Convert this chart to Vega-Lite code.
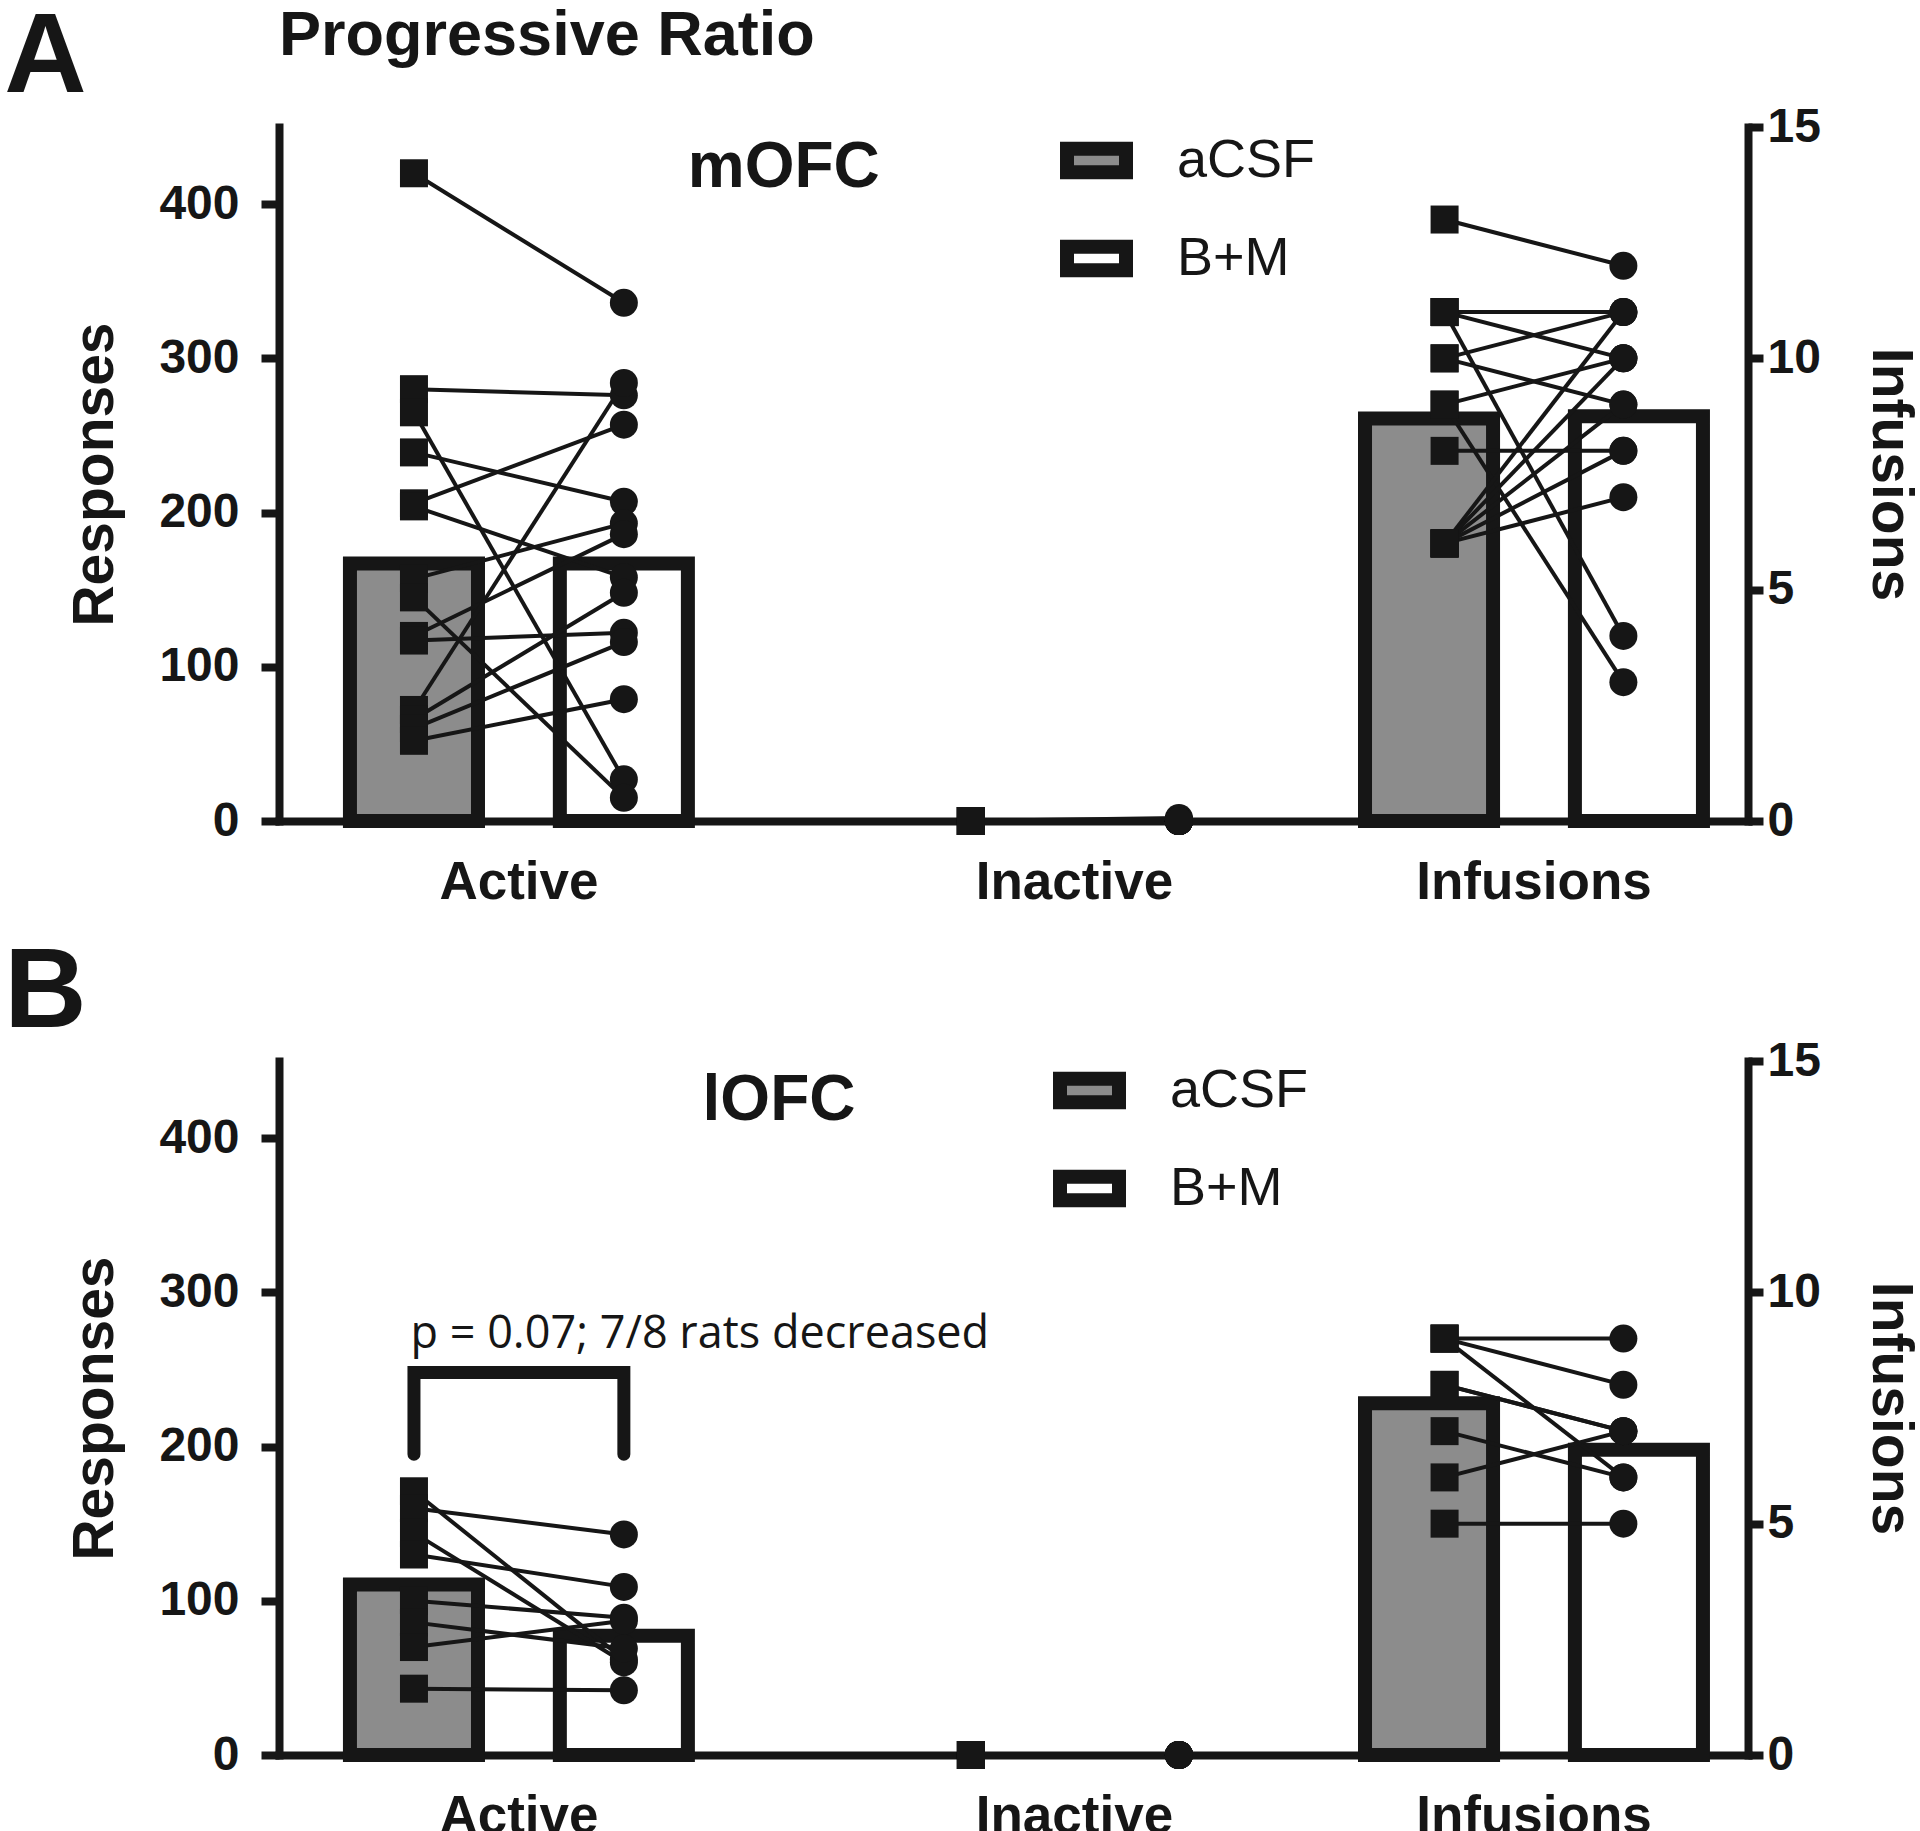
{
  "$schema": "https://vega.github.io/schema/vega-lite/v6.json",
  "background": "white",
  "padding": {"left": 4, "top": 0, "right": 12, "bottom": 0},
  "spacing": 27,
  "config": {
    "view": {"stroke": null},
    "font": "Liberation Sans",
    "axis": {"grid": false, "domainColor": "#161616", "domainWidth": 8, "tickColor": "#161616", "tickWidth": 8, "labelColor": "#161616", "labelFont": "Liberation Sans", "labelFontWeight": "bold", "titleColor": "#161616", "titleFont": "Liberation Sans", "titleFontWeight": "bold"},
    "axisX": {"ticks": false, "labelFontSize": 53, "labelPadding": 35, "labelAngle": 0, "labelLimit": 600, "domainCap": "square"},
    "axisY": {"labelFontSize": 48, "titleFontSize": 57, "domainCap": "square", "labelLimit": 300},
    "axisLeft": {"tickSize": 18, "labelPadding": 22, "titlePadding": 34},
    "axisRight": {"tickSize": 15, "labelPadding": 4, "titlePadding": 40}
  },
  "resolve": {"scale": {"fill": "independent", "xOffset": "independent"}, "legend": {"fill": "independent"}},
  "datasets": {
    "bars": [
      {"panel": "mOFC", "measure": "Active", "group": "aCSF", "value": 167},
      {"panel": "mOFC", "measure": "Active", "group": "B+M", "value": 167},
      {"panel": "mOFC", "measure": "Infusions", "group": "aCSF", "value": 8.7},
      {"panel": "mOFC", "measure": "Infusions", "group": "B+M", "value": 8.75},
      {"panel": "lOFC", "measure": "Active", "group": "aCSF", "value": 110.5},
      {"panel": "lOFC", "measure": "Active", "group": "B+M", "value": 77.3},
      {"panel": "lOFC", "measure": "Infusions", "group": "aCSF", "value": 7.6},
      {"panel": "lOFC", "measure": "Infusions", "group": "B+M", "value": 6.6}
    ],
    "bracket": [
      {"panel": "lOFC", "measure": "Active", "group": "aCSF", "step": 1, "value": 195},
      {"panel": "lOFC", "measure": "Active", "group": "aCSF", "step": 2, "value": 248},
      {"panel": "lOFC", "measure": "Active", "group": "B+M", "step": 3, "value": 248},
      {"panel": "lOFC", "measure": "Active", "group": "B+M", "step": 4, "value": 195}
    ],
    "notes": [
      {"panel": "mOFC", "label": "A", "measure": "Active", "value": 473},
      {"panel": "mOFC", "label": "Progressive Ratio", "measure": "Active", "value": 497},
      {"panel": "mOFC", "label": "mOFC", "measure": "Active", "value": 411},
      {"panel": "lOFC", "label": "B", "measure": "Active", "value": 472},
      {"panel": "lOFC", "label": "lOFC", "measure": "Active", "value": 412},
      {"panel": "lOFC", "label": "p = 0.07; 7/8 rats decreased", "measure": "Active", "value": 264}
    ],
    "points": [
      {"panel": "mOFC", "measure": "Active", "group": "aCSF", "rat": 1, "value": 420},
      {"panel": "mOFC", "measure": "Active", "group": "aCSF", "rat": 2, "value": 280},
      {"panel": "mOFC", "measure": "Active", "group": "aCSF", "rat": 3, "value": 265},
      {"panel": "mOFC", "measure": "Active", "group": "aCSF", "rat": 4, "value": 239},
      {"panel": "mOFC", "measure": "Active", "group": "aCSF", "rat": 5, "value": 206},
      {"panel": "mOFC", "measure": "Active", "group": "aCSF", "rat": 6, "value": 204},
      {"panel": "mOFC", "measure": "Active", "group": "aCSF", "rat": 7, "value": 157},
      {"panel": "mOFC", "measure": "Active", "group": "aCSF", "rat": 8, "value": 145},
      {"panel": "mOFC", "measure": "Active", "group": "aCSF", "rat": 9, "value": 120},
      {"panel": "mOFC", "measure": "Active", "group": "aCSF", "rat": 10, "value": 117},
      {"panel": "mOFC", "measure": "Active", "group": "aCSF", "rat": 11, "value": 72},
      {"panel": "mOFC", "measure": "Active", "group": "aCSF", "rat": 12, "value": 66},
      {"panel": "mOFC", "measure": "Active", "group": "aCSF", "rat": 13, "value": 60},
      {"panel": "mOFC", "measure": "Active", "group": "aCSF", "rat": 14, "value": 52},
      {"panel": "mOFC", "measure": "Active", "group": "B+M", "rat": 1, "value": 336},
      {"panel": "mOFC", "measure": "Active", "group": "B+M", "rat": 2, "value": 276},
      {"panel": "mOFC", "measure": "Active", "group": "B+M", "rat": 3, "value": 27},
      {"panel": "mOFC", "measure": "Active", "group": "B+M", "rat": 4, "value": 207},
      {"panel": "mOFC", "measure": "Active", "group": "B+M", "rat": 5, "value": 257},
      {"panel": "mOFC", "measure": "Active", "group": "B+M", "rat": 6, "value": 158},
      {"panel": "mOFC", "measure": "Active", "group": "B+M", "rat": 7, "value": 193},
      {"panel": "mOFC", "measure": "Active", "group": "B+M", "rat": 8, "value": 15},
      {"panel": "mOFC", "measure": "Active", "group": "B+M", "rat": 9, "value": 186},
      {"panel": "mOFC", "measure": "Active", "group": "B+M", "rat": 10, "value": 122},
      {"panel": "mOFC", "measure": "Active", "group": "B+M", "rat": 11, "value": 284},
      {"panel": "mOFC", "measure": "Active", "group": "B+M", "rat": 12, "value": 148},
      {"panel": "mOFC", "measure": "Active", "group": "B+M", "rat": 13, "value": 116},
      {"panel": "mOFC", "measure": "Active", "group": "B+M", "rat": 14, "value": 79},
      {"panel": "mOFC", "measure": "Inactive", "group": "aCSF", "rat": 1, "value": 0},
      {"panel": "mOFC", "measure": "Inactive", "group": "aCSF", "rat": 2, "value": 0},
      {"panel": "mOFC", "measure": "Inactive", "group": "aCSF", "rat": 3, "value": 0},
      {"panel": "mOFC", "measure": "Inactive", "group": "aCSF", "rat": 4, "value": 0},
      {"panel": "mOFC", "measure": "Inactive", "group": "aCSF", "rat": 5, "value": 0},
      {"panel": "mOFC", "measure": "Inactive", "group": "aCSF", "rat": 6, "value": 0},
      {"panel": "mOFC", "measure": "Inactive", "group": "aCSF", "rat": 7, "value": 0},
      {"panel": "mOFC", "measure": "Inactive", "group": "aCSF", "rat": 8, "value": 0},
      {"panel": "mOFC", "measure": "Inactive", "group": "aCSF", "rat": 9, "value": 0},
      {"panel": "mOFC", "measure": "Inactive", "group": "aCSF", "rat": 10, "value": 0},
      {"panel": "mOFC", "measure": "Inactive", "group": "aCSF", "rat": 11, "value": 0},
      {"panel": "mOFC", "measure": "Inactive", "group": "aCSF", "rat": 12, "value": 0},
      {"panel": "mOFC", "measure": "Inactive", "group": "aCSF", "rat": 13, "value": 0},
      {"panel": "mOFC", "measure": "Inactive", "group": "aCSF", "rat": 14, "value": 0},
      {"panel": "mOFC", "measure": "Inactive", "group": "B+M", "rat": 1, "value": 0},
      {"panel": "mOFC", "measure": "Inactive", "group": "B+M", "rat": 2, "value": 0},
      {"panel": "mOFC", "measure": "Inactive", "group": "B+M", "rat": 3, "value": 1},
      {"panel": "mOFC", "measure": "Inactive", "group": "B+M", "rat": 4, "value": 0},
      {"panel": "mOFC", "measure": "Inactive", "group": "B+M", "rat": 5, "value": 0},
      {"panel": "mOFC", "measure": "Inactive", "group": "B+M", "rat": 6, "value": 0},
      {"panel": "mOFC", "measure": "Inactive", "group": "B+M", "rat": 7, "value": 0},
      {"panel": "mOFC", "measure": "Inactive", "group": "B+M", "rat": 8, "value": 0},
      {"panel": "mOFC", "measure": "Inactive", "group": "B+M", "rat": 9, "value": 2},
      {"panel": "mOFC", "measure": "Inactive", "group": "B+M", "rat": 10, "value": 0},
      {"panel": "mOFC", "measure": "Inactive", "group": "B+M", "rat": 11, "value": 0},
      {"panel": "mOFC", "measure": "Inactive", "group": "B+M", "rat": 12, "value": 0},
      {"panel": "mOFC", "measure": "Inactive", "group": "B+M", "rat": 13, "value": 0},
      {"panel": "mOFC", "measure": "Inactive", "group": "B+M", "rat": 14, "value": 0},
      {"panel": "mOFC", "measure": "Infusions", "group": "aCSF", "rat": 1, "value": 13},
      {"panel": "mOFC", "measure": "Infusions", "group": "aCSF", "rat": 2, "value": 11},
      {"panel": "mOFC", "measure": "Infusions", "group": "aCSF", "rat": 3, "value": 11},
      {"panel": "mOFC", "measure": "Infusions", "group": "aCSF", "rat": 4, "value": 11},
      {"panel": "mOFC", "measure": "Infusions", "group": "aCSF", "rat": 5, "value": 10},
      {"panel": "mOFC", "measure": "Infusions", "group": "aCSF", "rat": 6, "value": 10},
      {"panel": "mOFC", "measure": "Infusions", "group": "aCSF", "rat": 7, "value": 9},
      {"panel": "mOFC", "measure": "Infusions", "group": "aCSF", "rat": 8, "value": 9},
      {"panel": "mOFC", "measure": "Infusions", "group": "aCSF", "rat": 9, "value": 8},
      {"panel": "mOFC", "measure": "Infusions", "group": "aCSF", "rat": 10, "value": 6},
      {"panel": "mOFC", "measure": "Infusions", "group": "aCSF", "rat": 11, "value": 6},
      {"panel": "mOFC", "measure": "Infusions", "group": "aCSF", "rat": 12, "value": 6},
      {"panel": "mOFC", "measure": "Infusions", "group": "aCSF", "rat": 13, "value": 6},
      {"panel": "mOFC", "measure": "Infusions", "group": "aCSF", "rat": 14, "value": 6},
      {"panel": "mOFC", "measure": "Infusions", "group": "B+M", "rat": 1, "value": 12},
      {"panel": "mOFC", "measure": "Infusions", "group": "B+M", "rat": 2, "value": 11},
      {"panel": "mOFC", "measure": "Infusions", "group": "B+M", "rat": 3, "value": 10},
      {"panel": "mOFC", "measure": "Infusions", "group": "B+M", "rat": 4, "value": 4},
      {"panel": "mOFC", "measure": "Infusions", "group": "B+M", "rat": 5, "value": 11},
      {"panel": "mOFC", "measure": "Infusions", "group": "B+M", "rat": 6, "value": 9},
      {"panel": "mOFC", "measure": "Infusions", "group": "B+M", "rat": 7, "value": 10},
      {"panel": "mOFC", "measure": "Infusions", "group": "B+M", "rat": 8, "value": 3},
      {"panel": "mOFC", "measure": "Infusions", "group": "B+M", "rat": 9, "value": 8},
      {"panel": "mOFC", "measure": "Infusions", "group": "B+M", "rat": 10, "value": 11},
      {"panel": "mOFC", "measure": "Infusions", "group": "B+M", "rat": 11, "value": 10},
      {"panel": "mOFC", "measure": "Infusions", "group": "B+M", "rat": 12, "value": 9},
      {"panel": "mOFC", "measure": "Infusions", "group": "B+M", "rat": 13, "value": 8},
      {"panel": "mOFC", "measure": "Infusions", "group": "B+M", "rat": 14, "value": 7},
      {"panel": "lOFC", "measure": "Active", "group": "aCSF", "rat": 1, "value": 171},
      {"panel": "lOFC", "measure": "Active", "group": "aCSF", "rat": 2, "value": 160},
      {"panel": "lOFC", "measure": "Active", "group": "aCSF", "rat": 3, "value": 144},
      {"panel": "lOFC", "measure": "Active", "group": "aCSF", "rat": 4, "value": 130},
      {"panel": "lOFC", "measure": "Active", "group": "aCSF", "rat": 5, "value": 100},
      {"panel": "lOFC", "measure": "Active", "group": "aCSF", "rat": 6, "value": 86},
      {"panel": "lOFC", "measure": "Active", "group": "aCSF", "rat": 7, "value": 70},
      {"panel": "lOFC", "measure": "Active", "group": "aCSF", "rat": 8, "value": 43},
      {"panel": "lOFC", "measure": "Active", "group": "B+M", "rat": 1, "value": 62},
      {"panel": "lOFC", "measure": "Active", "group": "B+M", "rat": 2, "value": 143},
      {"panel": "lOFC", "measure": "Active", "group": "B+M", "rat": 3, "value": 60},
      {"panel": "lOFC", "measure": "Active", "group": "B+M", "rat": 4, "value": 109},
      {"panel": "lOFC", "measure": "Active", "group": "B+M", "rat": 5, "value": 89},
      {"panel": "lOFC", "measure": "Active", "group": "B+M", "rat": 6, "value": 69},
      {"panel": "lOFC", "measure": "Active", "group": "B+M", "rat": 7, "value": 87},
      {"panel": "lOFC", "measure": "Active", "group": "B+M", "rat": 8, "value": 42},
      {"panel": "lOFC", "measure": "Inactive", "group": "aCSF", "rat": 1, "value": 0},
      {"panel": "lOFC", "measure": "Inactive", "group": "aCSF", "rat": 2, "value": 0},
      {"panel": "lOFC", "measure": "Inactive", "group": "aCSF", "rat": 3, "value": 0},
      {"panel": "lOFC", "measure": "Inactive", "group": "aCSF", "rat": 4, "value": 0},
      {"panel": "lOFC", "measure": "Inactive", "group": "aCSF", "rat": 5, "value": 0},
      {"panel": "lOFC", "measure": "Inactive", "group": "aCSF", "rat": 6, "value": 0},
      {"panel": "lOFC", "measure": "Inactive", "group": "aCSF", "rat": 7, "value": 0},
      {"panel": "lOFC", "measure": "Inactive", "group": "aCSF", "rat": 8, "value": 0},
      {"panel": "lOFC", "measure": "Inactive", "group": "B+M", "rat": 1, "value": 0},
      {"panel": "lOFC", "measure": "Inactive", "group": "B+M", "rat": 2, "value": 0},
      {"panel": "lOFC", "measure": "Inactive", "group": "B+M", "rat": 3, "value": 0},
      {"panel": "lOFC", "measure": "Inactive", "group": "B+M", "rat": 4, "value": 0},
      {"panel": "lOFC", "measure": "Inactive", "group": "B+M", "rat": 5, "value": 0},
      {"panel": "lOFC", "measure": "Inactive", "group": "B+M", "rat": 6, "value": 0},
      {"panel": "lOFC", "measure": "Inactive", "group": "B+M", "rat": 7, "value": 0},
      {"panel": "lOFC", "measure": "Inactive", "group": "B+M", "rat": 8, "value": 0},
      {"panel": "lOFC", "measure": "Infusions", "group": "aCSF", "rat": 1, "value": 9},
      {"panel": "lOFC", "measure": "Infusions", "group": "aCSF", "rat": 2, "value": 9},
      {"panel": "lOFC", "measure": "Infusions", "group": "aCSF", "rat": 3, "value": 9},
      {"panel": "lOFC", "measure": "Infusions", "group": "aCSF", "rat": 4, "value": 8},
      {"panel": "lOFC", "measure": "Infusions", "group": "aCSF", "rat": 5, "value": 8},
      {"panel": "lOFC", "measure": "Infusions", "group": "aCSF", "rat": 6, "value": 7},
      {"panel": "lOFC", "measure": "Infusions", "group": "aCSF", "rat": 7, "value": 6},
      {"panel": "lOFC", "measure": "Infusions", "group": "aCSF", "rat": 8, "value": 5},
      {"panel": "lOFC", "measure": "Infusions", "group": "B+M", "rat": 1, "value": 9},
      {"panel": "lOFC", "measure": "Infusions", "group": "B+M", "rat": 2, "value": 8},
      {"panel": "lOFC", "measure": "Infusions", "group": "B+M", "rat": 3, "value": 6},
      {"panel": "lOFC", "measure": "Infusions", "group": "B+M", "rat": 4, "value": 7},
      {"panel": "lOFC", "measure": "Infusions", "group": "B+M", "rat": 5, "value": 7},
      {"panel": "lOFC", "measure": "Infusions", "group": "B+M", "rat": 6, "value": 6},
      {"panel": "lOFC", "measure": "Infusions", "group": "B+M", "rat": 7, "value": 7},
      {"panel": "lOFC", "measure": "Infusions", "group": "B+M", "rat": 8, "value": 5}
    ]
  },
  "vconcat": [
    {
      "width": 1469,
      "height": 694,
      "resolve": {"scale": {"y": "independent", "xOffset": "independent"}},
      "layer": [
        {
          "resolve": {"scale": {"xOffset": "independent"}},
          "layer": [
            {
              "layer": [
                {
                  "data": {"name": "bars"},
                  "transform": [{"filter": "datum.panel === 'mOFC' && datum.measure === 'Active'"}],
                  "mark": {"type": "bar", "stroke": "#161616", "strokeWidth": 14, "strokeJoin": "miter"},
                  "encoding": {
                    "x": {"field": "measure", "type": "nominal", "sort": null, "scale": {"domain": ["Active", "Inactive", "Infusions"], "paddingInner": 0.22, "paddingOuter": 0.0572, "align": 0.723}, "axis": {"title": null, "labelOffset": {"condition": {"test": "datum.value === 'Inactive'", "value": 48}, "value": 0}}},
                    "xOffset": {"field": "group", "type": "nominal", "scale": {"type": "band", "domain": ["aCSF", "B+M"], "paddingInner": 0.39, "paddingOuter": 0.138}},
                    "y": {"field": "value", "type": "quantitative", "scale": {"domain": [0, 450], "nice": false}, "axis": {"orient": "left", "title": "Responses", "values": [0, 100, 200, 300, 400]}},
                    "fill": {"field": "group", "type": "nominal", "scale": {"domain": ["aCSF", "B+M"], "range": ["#8c8c8c", "#ffffff"]}, "legend": {"title": null, "orient": "none", "legendX": 781, "legendY": -3, "padding": 0, "symbolType": "M-1,-0.4H1V0.4H-1Z", "symbolSize": 3481, "symbolStrokeColor": "#161616", "symbolStrokeWidth": 14, "labelFontSize": 54, "labelFont": "Liberation Sans", "labelFontWeight": "normal", "labelColor": "#161616", "rowPadding": 17, "labelOffset": 44}}
                  }
                },
                {
                  "data": {"name": "points"},
                  "transform": [{"filter": "datum.panel === 'mOFC' && datum.measure === 'Active'"}],
                  "mark": {"type": "line", "color": "#161616", "strokeWidth": 4},
                  "encoding": {
                    "x": {"field": "measure", "type": "nominal", "sort": null, "scale": {"domain": ["Active", "Inactive", "Infusions"], "paddingInner": 0.22, "paddingOuter": 0.0572, "align": 0.723}, "axis": {"title": null, "labelOffset": {"condition": {"test": "datum.value === 'Inactive'", "value": 48}, "value": 0}}},
                    "xOffset": {"field": "group", "type": "nominal", "scale": {"type": "band", "domain": ["aCSF", "B+M"], "paddingInner": 0.39, "paddingOuter": 0.138}},
                    "y": {"field": "value", "type": "quantitative", "scale": {"domain": [0, 450], "nice": false}, "axis": {"orient": "left", "title": "Responses", "values": [0, 100, 200, 300, 400]}},
                    "detail": {"field": "rat", "type": "nominal"}
                  }
                },
                {
                  "data": {"name": "points"},
                  "transform": [{"filter": "datum.panel === 'mOFC' && datum.measure === 'Active'"}],
                  "mark": {"type": "point", "filled": true, "opacity": 1, "color": "#161616", "size": 784},
                  "encoding": {
                    "x": {"field": "measure", "type": "nominal", "sort": null, "scale": {"domain": ["Active", "Inactive", "Infusions"], "paddingInner": 0.22, "paddingOuter": 0.0572, "align": 0.723}, "axis": {"title": null, "labelOffset": {"condition": {"test": "datum.value === 'Inactive'", "value": 48}, "value": 0}}},
                    "xOffset": {"field": "group", "type": "nominal", "scale": {"type": "band", "domain": ["aCSF", "B+M"], "paddingInner": 0.39, "paddingOuter": 0.138}},
                    "y": {"field": "value", "type": "quantitative", "scale": {"domain": [0, 450], "nice": false}, "axis": {"orient": "left", "title": "Responses", "values": [0, 100, 200, 300, 400]}},
                    "shape": {"field": "group", "type": "nominal", "scale": {"domain": ["aCSF", "B+M"], "range": ["square", "circle"]}, "legend": null}
                  }
                },
                {
                  "data": {"name": "notes"},
                  "transform": [{"filter": "datum.label === 'A'"}],
                  "mark": {"type": "text", "align": "left", "baseline": "alphabetic", "fontSize": 114, "fontWeight": "bold", "font": "Liberation Sans", "color": "#161616"},
                  "encoding": {
                    "x": {"field": "measure", "type": "nominal", "sort": null, "bandPosition": -0.8, "scale": {"domain": ["Active", "Inactive", "Infusions"], "paddingInner": 0.22, "paddingOuter": 0.0572, "align": 0.723}, "axis": {"title": null, "labelOffset": {"condition": {"test": "datum.value === 'Inactive'", "value": 48}, "value": 0}}},
                    "y": {"field": "value", "type": "quantitative", "scale": {"domain": [0, 450], "nice": false}, "axis": {"orient": "left", "title": "Responses", "values": [0, 100, 200, 300, 400]}},
                    "text": {"field": "label"}
                  }
                },
                {
                  "data": {"name": "notes"},
                  "transform": [{"filter": "datum.label === 'Progressive Ratio'"}],
                  "mark": {"type": "text", "align": "left", "baseline": "alphabetic", "fontSize": 63, "fontWeight": "bold", "font": "Liberation Sans", "color": "#161616"},
                  "encoding": {
                    "x": {"field": "measure", "type": "nominal", "sort": null, "bandPosition": -0.106, "scale": {"domain": ["Active", "Inactive", "Infusions"], "paddingInner": 0.22, "paddingOuter": 0.0572, "align": 0.723}, "axis": {"title": null, "labelOffset": {"condition": {"test": "datum.value === 'Inactive'", "value": 48}, "value": 0}}},
                    "y": {"field": "value", "type": "quantitative", "scale": {"domain": [0, 450], "nice": false}, "axis": {"orient": "left", "title": "Responses", "values": [0, 100, 200, 300, 400]}},
                    "text": {"field": "label"}
                  }
                },
                {
                  "data": {"name": "notes"},
                  "transform": [{"filter": "datum.label === 'mOFC'"}],
                  "mark": {"type": "text", "align": "center", "baseline": "alphabetic", "fontSize": 64, "fontWeight": "bold", "font": "Liberation Sans", "color": "#161616"},
                  "encoding": {
                    "x": {"field": "measure", "type": "nominal", "sort": null, "bandPosition": 1.169, "scale": {"domain": ["Active", "Inactive", "Infusions"], "paddingInner": 0.22, "paddingOuter": 0.0572, "align": 0.723}, "axis": {"title": null, "labelOffset": {"condition": {"test": "datum.value === 'Inactive'", "value": 48}, "value": 0}}},
                    "y": {"field": "value", "type": "quantitative", "scale": {"domain": [0, 450], "nice": false}, "axis": {"orient": "left", "title": "Responses", "values": [0, 100, 200, 300, 400]}},
                    "text": {"field": "label"}
                  }
                }
              ]
            },
            {
              "layer": [
                {
                  "data": {"name": "points"},
                  "transform": [{"filter": "datum.panel === 'mOFC' && datum.measure === 'Inactive'"}],
                  "mark": {"type": "line", "color": "#161616", "strokeWidth": 4},
                  "encoding": {
                    "x": {"field": "measure", "type": "nominal", "sort": null, "scale": {"domain": ["Active", "Inactive", "Infusions"], "paddingInner": 0.22, "paddingOuter": 0.0572, "align": 0.723}, "axis": {"title": null, "labelOffset": {"condition": {"test": "datum.value === 'Inactive'", "value": 48}, "value": 0}}},
                    "xOffset": {"field": "group", "type": "nominal", "scale": {"type": "band", "domain": ["aCSF", "B+M"], "paddingInner": 0.6, "paddingOuter": 0.2517, "align": 0.963}},
                    "y": {"field": "value", "type": "quantitative", "scale": {"domain": [0, 450], "nice": false}, "axis": {"orient": "left", "title": "Responses", "values": [0, 100, 200, 300, 400]}},
                    "detail": {"field": "rat", "type": "nominal"}
                  }
                },
                {
                  "data": {"name": "points"},
                  "transform": [{"filter": "datum.panel === 'mOFC' && datum.measure === 'Inactive'"}],
                  "mark": {"type": "point", "filled": true, "opacity": 1, "color": "#161616", "size": 784},
                  "encoding": {
                    "x": {"field": "measure", "type": "nominal", "sort": null, "scale": {"domain": ["Active", "Inactive", "Infusions"], "paddingInner": 0.22, "paddingOuter": 0.0572, "align": 0.723}, "axis": {"title": null, "labelOffset": {"condition": {"test": "datum.value === 'Inactive'", "value": 48}, "value": 0}}},
                    "xOffset": {"field": "group", "type": "nominal", "scale": {"type": "band", "domain": ["aCSF", "B+M"], "paddingInner": 0.6, "paddingOuter": 0.2517, "align": 0.963}},
                    "y": {"field": "value", "type": "quantitative", "scale": {"domain": [0, 450], "nice": false}, "axis": {"orient": "left", "title": "Responses", "values": [0, 100, 200, 300, 400]}},
                    "shape": {"field": "group", "type": "nominal", "scale": {"domain": ["aCSF", "B+M"], "range": ["square", "circle"]}, "legend": null}
                  }
                }
              ]
            }
          ]
        },
        {
          "resolve": {"scale": {"xOffset": "independent"}},
          "layer": [
            {
              "data": {"name": "bars"},
              "transform": [{"filter": "datum.panel === 'mOFC' && datum.measure === 'Infusions'"}],
              "mark": {"type": "bar", "stroke": "#161616", "strokeWidth": 14, "strokeJoin": "miter"},
              "encoding": {
                "x": {"field": "measure", "type": "nominal", "sort": null, "scale": {"domain": ["Active", "Inactive", "Infusions"], "paddingInner": 0.22, "paddingOuter": 0.0572, "align": 0.723}, "axis": {"title": null, "labelOffset": {"condition": {"test": "datum.value === 'Inactive'", "value": 48}, "value": 0}}},
                "xOffset": {"field": "group", "type": "nominal", "scale": {"type": "band", "domain": ["aCSF", "B+M"], "paddingInner": 0.39, "paddingOuter": 0.138}},
                "y": {"field": "value", "type": "quantitative", "scale": {"domain": [0, 15], "nice": false}, "axis": {"orient": "right", "title": "Infusions", "values": [0, 5, 10, 15]}},
                "fill": {"field": "group", "type": "nominal", "scale": {"domain": ["aCSF", "B+M"], "range": ["#8c8c8c", "#ffffff"]}, "legend": {"title": null, "orient": "none", "legendX": 781, "legendY": -3, "padding": 0, "symbolType": "M-1,-0.4H1V0.4H-1Z", "symbolSize": 3481, "symbolStrokeColor": "#161616", "symbolStrokeWidth": 14, "labelFontSize": 54, "labelFont": "Liberation Sans", "labelFontWeight": "normal", "labelColor": "#161616", "rowPadding": 17, "labelOffset": 44}}
              }
            },
            {
              "layer": [
                {
                  "data": {"name": "points"},
                  "transform": [{"filter": "datum.panel === 'mOFC' && datum.measure === 'Infusions'"}],
                  "mark": {"type": "line", "color": "#161616", "strokeWidth": 4},
                  "encoding": {
                    "x": {"field": "measure", "type": "nominal", "sort": null, "scale": {"domain": ["Active", "Inactive", "Infusions"], "paddingInner": 0.22, "paddingOuter": 0.0572, "align": 0.723}, "axis": {"title": null, "labelOffset": {"condition": {"test": "datum.value === 'Inactive'", "value": 48}, "value": 0}}},
                    "xOffset": {"field": "group", "type": "nominal", "scale": {"type": "band", "domain": ["aCSF", "B+M"], "paddingInner": 0.6, "paddingOuter": 0.407}},
                    "y": {"field": "value", "type": "quantitative", "scale": {"domain": [0, 15], "nice": false}, "axis": {"orient": "right", "title": "Infusions", "values": [0, 5, 10, 15]}},
                    "detail": {"field": "rat", "type": "nominal"}
                  }
                },
                {
                  "data": {"name": "points"},
                  "transform": [{"filter": "datum.panel === 'mOFC' && datum.measure === 'Infusions'"}],
                  "mark": {"type": "point", "filled": true, "opacity": 1, "color": "#161616", "size": 784},
                  "encoding": {
                    "x": {"field": "measure", "type": "nominal", "sort": null, "scale": {"domain": ["Active", "Inactive", "Infusions"], "paddingInner": 0.22, "paddingOuter": 0.0572, "align": 0.723}, "axis": {"title": null, "labelOffset": {"condition": {"test": "datum.value === 'Inactive'", "value": 48}, "value": 0}}},
                    "xOffset": {"field": "group", "type": "nominal", "scale": {"type": "band", "domain": ["aCSF", "B+M"], "paddingInner": 0.6, "paddingOuter": 0.407}},
                    "y": {"field": "value", "type": "quantitative", "scale": {"domain": [0, 15], "nice": false}, "axis": {"orient": "right", "title": "Infusions", "values": [0, 5, 10, 15]}},
                    "shape": {"field": "group", "type": "nominal", "scale": {"domain": ["aCSF", "B+M"], "range": ["square", "circle"]}, "legend": null}
                  }
                }
              ]
            }
          ]
        }
      ]
    },
    {
      "width": 1469,
      "height": 694,
      "resolve": {"scale": {"y": "independent", "xOffset": "independent"}},
      "layer": [
        {
          "resolve": {"scale": {"xOffset": "independent"}},
          "layer": [
            {
              "layer": [
                {
                  "data": {"name": "bars"},
                  "transform": [{"filter": "datum.panel === 'lOFC' && datum.measure === 'Active'"}],
                  "mark": {"type": "bar", "stroke": "#161616", "strokeWidth": 14, "strokeJoin": "miter"},
                  "encoding": {
                    "x": {"field": "measure", "type": "nominal", "sort": null, "scale": {"domain": ["Active", "Inactive", "Infusions"], "paddingInner": 0.22, "paddingOuter": 0.0572, "align": 0.723}, "axis": {"title": null, "labelOffset": {"condition": {"test": "datum.value === 'Inactive'", "value": 48}, "value": 0}}},
                    "xOffset": {"field": "group", "type": "nominal", "scale": {"type": "band", "domain": ["aCSF", "B+M"], "paddingInner": 0.39, "paddingOuter": 0.138}},
                    "y": {"field": "value", "type": "quantitative", "scale": {"domain": [0, 450], "nice": false}, "axis": {"orient": "left", "title": "Responses", "values": [0, 100, 200, 300, 400]}},
                    "fill": {"field": "group", "type": "nominal", "scale": {"domain": ["aCSF", "B+M"], "range": ["#8c8c8c", "#ffffff"]}, "legend": {"title": null, "orient": "none", "legendX": 774, "legendY": -7, "padding": 0, "symbolType": "M-1,-0.4H1V0.4H-1Z", "symbolSize": 3481, "symbolStrokeColor": "#161616", "symbolStrokeWidth": 14, "labelFontSize": 54, "labelFont": "Liberation Sans", "labelFontWeight": "normal", "labelColor": "#161616", "rowPadding": 17, "labelOffset": 44}}
                  }
                },
                {
                  "data": {"name": "points"},
                  "transform": [{"filter": "datum.panel === 'lOFC' && datum.measure === 'Active'"}],
                  "mark": {"type": "line", "color": "#161616", "strokeWidth": 4},
                  "encoding": {
                    "x": {"field": "measure", "type": "nominal", "sort": null, "scale": {"domain": ["Active", "Inactive", "Infusions"], "paddingInner": 0.22, "paddingOuter": 0.0572, "align": 0.723}, "axis": {"title": null, "labelOffset": {"condition": {"test": "datum.value === 'Inactive'", "value": 48}, "value": 0}}},
                    "xOffset": {"field": "group", "type": "nominal", "scale": {"type": "band", "domain": ["aCSF", "B+M"], "paddingInner": 0.39, "paddingOuter": 0.138}},
                    "y": {"field": "value", "type": "quantitative", "scale": {"domain": [0, 450], "nice": false}, "axis": {"orient": "left", "title": "Responses", "values": [0, 100, 200, 300, 400]}},
                    "detail": {"field": "rat", "type": "nominal"}
                  }
                },
                {
                  "data": {"name": "points"},
                  "transform": [{"filter": "datum.panel === 'lOFC' && datum.measure === 'Active'"}],
                  "mark": {"type": "point", "filled": true, "opacity": 1, "color": "#161616", "size": 784},
                  "encoding": {
                    "x": {"field": "measure", "type": "nominal", "sort": null, "scale": {"domain": ["Active", "Inactive", "Infusions"], "paddingInner": 0.22, "paddingOuter": 0.0572, "align": 0.723}, "axis": {"title": null, "labelOffset": {"condition": {"test": "datum.value === 'Inactive'", "value": 48}, "value": 0}}},
                    "xOffset": {"field": "group", "type": "nominal", "scale": {"type": "band", "domain": ["aCSF", "B+M"], "paddingInner": 0.39, "paddingOuter": 0.138}},
                    "y": {"field": "value", "type": "quantitative", "scale": {"domain": [0, 450], "nice": false}, "axis": {"orient": "left", "title": "Responses", "values": [0, 100, 200, 300, 400]}},
                    "shape": {"field": "group", "type": "nominal", "scale": {"domain": ["aCSF", "B+M"], "range": ["square", "circle"]}, "legend": null}
                  }
                },
                {
                  "data": {"name": "bracket"},
                  "mark": {"type": "line", "color": "#161616", "strokeWidth": 13, "strokeCap": "round", "strokeJoin": "miter"},
                  "encoding": {
                    "x": {"field": "measure", "type": "nominal", "sort": null, "scale": {"domain": ["Active", "Inactive", "Infusions"], "paddingInner": 0.22, "paddingOuter": 0.0572, "align": 0.723}, "axis": {"title": null, "labelOffset": {"condition": {"test": "datum.value === 'Inactive'", "value": 48}, "value": 0}}},
                    "xOffset": {"field": "group", "type": "nominal", "scale": {"type": "band", "domain": ["aCSF", "B+M"], "paddingInner": 0.39, "paddingOuter": 0.138}},
                    "y": {"field": "value", "type": "quantitative", "scale": {"domain": [0, 450], "nice": false}, "axis": {"orient": "left", "title": "Responses", "values": [0, 100, 200, 300, 400]}},
                    "order": {"field": "step", "type": "quantitative"}
                  }
                },
                {
                  "data": {"name": "notes"},
                  "transform": [{"filter": "datum.label === 'B'"}],
                  "mark": {"type": "text", "align": "left", "baseline": "alphabetic", "fontSize": 114, "fontWeight": "bold", "font": "Liberation Sans", "color": "#161616"},
                  "encoding": {
                    "x": {"field": "measure", "type": "nominal", "sort": null, "bandPosition": -0.8, "scale": {"domain": ["Active", "Inactive", "Infusions"], "paddingInner": 0.22, "paddingOuter": 0.0572, "align": 0.723}, "axis": {"title": null, "labelOffset": {"condition": {"test": "datum.value === 'Inactive'", "value": 48}, "value": 0}}},
                    "y": {"field": "value", "type": "quantitative", "scale": {"domain": [0, 450], "nice": false}, "axis": {"orient": "left", "title": "Responses", "values": [0, 100, 200, 300, 400]}},
                    "text": {"field": "label"}
                  }
                },
                {
                  "data": {"name": "notes"},
                  "transform": [{"filter": "datum.label === 'lOFC'"}],
                  "mark": {"type": "text", "align": "center", "baseline": "alphabetic", "fontSize": 64, "fontWeight": "bold", "font": "Liberation Sans", "color": "#161616"},
                  "encoding": {
                    "x": {"field": "measure", "type": "nominal", "sort": null, "bandPosition": 1.157, "scale": {"domain": ["Active", "Inactive", "Infusions"], "paddingInner": 0.22, "paddingOuter": 0.0572, "align": 0.723}, "axis": {"title": null, "labelOffset": {"condition": {"test": "datum.value === 'Inactive'", "value": 48}, "value": 0}}},
                    "y": {"field": "value", "type": "quantitative", "scale": {"domain": [0, 450], "nice": false}, "axis": {"orient": "left", "title": "Responses", "values": [0, 100, 200, 300, 400]}},
                    "text": {"field": "label"}
                  }
                },
                {
                  "data": {"name": "notes"},
                  "transform": [{"filter": "datum.panel === 'lOFC' && datum.label !== 'B' && datum.label !== 'lOFC'"}],
                  "mark": {"type": "text", "align": "center", "baseline": "alphabetic", "fontSize": 45, "fontWeight": "normal", "font": "Open Sans", "color": "#161616"},
                  "encoding": {
                    "x": {"field": "measure", "type": "nominal", "sort": null, "bandPosition": 0.957, "scale": {"domain": ["Active", "Inactive", "Infusions"], "paddingInner": 0.22, "paddingOuter": 0.0572, "align": 0.723}, "axis": {"title": null, "labelOffset": {"condition": {"test": "datum.value === 'Inactive'", "value": 48}, "value": 0}}},
                    "y": {"field": "value", "type": "quantitative", "scale": {"domain": [0, 450], "nice": false}, "axis": {"orient": "left", "title": "Responses", "values": [0, 100, 200, 300, 400]}},
                    "text": {"field": "label"}
                  }
                }
              ]
            },
            {
              "layer": [
                {
                  "data": {"name": "points"},
                  "transform": [{"filter": "datum.panel === 'lOFC' && datum.measure === 'Inactive'"}],
                  "mark": {"type": "line", "color": "#161616", "strokeWidth": 4},
                  "encoding": {
                    "x": {"field": "measure", "type": "nominal", "sort": null, "scale": {"domain": ["Active", "Inactive", "Infusions"], "paddingInner": 0.22, "paddingOuter": 0.0572, "align": 0.723}, "axis": {"title": null, "labelOffset": {"condition": {"test": "datum.value === 'Inactive'", "value": 48}, "value": 0}}},
                    "xOffset": {"field": "group", "type": "nominal", "scale": {"type": "band", "domain": ["aCSF", "B+M"], "paddingInner": 0.6, "paddingOuter": 0.2517, "align": 0.963}},
                    "y": {"field": "value", "type": "quantitative", "scale": {"domain": [0, 450], "nice": false}, "axis": {"orient": "left", "title": "Responses", "values": [0, 100, 200, 300, 400]}},
                    "detail": {"field": "rat", "type": "nominal"}
                  }
                },
                {
                  "data": {"name": "points"},
                  "transform": [{"filter": "datum.panel === 'lOFC' && datum.measure === 'Inactive'"}],
                  "mark": {"type": "point", "filled": true, "opacity": 1, "color": "#161616", "size": 784},
                  "encoding": {
                    "x": {"field": "measure", "type": "nominal", "sort": null, "scale": {"domain": ["Active", "Inactive", "Infusions"], "paddingInner": 0.22, "paddingOuter": 0.0572, "align": 0.723}, "axis": {"title": null, "labelOffset": {"condition": {"test": "datum.value === 'Inactive'", "value": 48}, "value": 0}}},
                    "xOffset": {"field": "group", "type": "nominal", "scale": {"type": "band", "domain": ["aCSF", "B+M"], "paddingInner": 0.6, "paddingOuter": 0.2517, "align": 0.963}},
                    "y": {"field": "value", "type": "quantitative", "scale": {"domain": [0, 450], "nice": false}, "axis": {"orient": "left", "title": "Responses", "values": [0, 100, 200, 300, 400]}},
                    "shape": {"field": "group", "type": "nominal", "scale": {"domain": ["aCSF", "B+M"], "range": ["square", "circle"]}, "legend": null}
                  }
                }
              ]
            }
          ]
        },
        {
          "resolve": {"scale": {"xOffset": "independent"}},
          "layer": [
            {
              "data": {"name": "bars"},
              "transform": [{"filter": "datum.panel === 'lOFC' && datum.measure === 'Infusions'"}],
              "mark": {"type": "bar", "stroke": "#161616", "strokeWidth": 14, "strokeJoin": "miter"},
              "encoding": {
                "x": {"field": "measure", "type": "nominal", "sort": null, "scale": {"domain": ["Active", "Inactive", "Infusions"], "paddingInner": 0.22, "paddingOuter": 0.0572, "align": 0.723}, "axis": {"title": null, "labelOffset": {"condition": {"test": "datum.value === 'Inactive'", "value": 48}, "value": 0}}},
                "xOffset": {"field": "group", "type": "nominal", "scale": {"type": "band", "domain": ["aCSF", "B+M"], "paddingInner": 0.39, "paddingOuter": 0.138}},
                "y": {"field": "value", "type": "quantitative", "scale": {"domain": [0, 15], "nice": false}, "axis": {"orient": "right", "title": "Infusions", "values": [0, 5, 10, 15]}},
                "fill": {"field": "group", "type": "nominal", "scale": {"domain": ["aCSF", "B+M"], "range": ["#8c8c8c", "#ffffff"]}, "legend": {"title": null, "orient": "none", "legendX": 774, "legendY": -7, "padding": 0, "symbolType": "M-1,-0.4H1V0.4H-1Z", "symbolSize": 3481, "symbolStrokeColor": "#161616", "symbolStrokeWidth": 14, "labelFontSize": 54, "labelFont": "Liberation Sans", "labelFontWeight": "normal", "labelColor": "#161616", "rowPadding": 17, "labelOffset": 44}}
              }
            },
            {
              "layer": [
                {
                  "data": {"name": "points"},
                  "transform": [{"filter": "datum.panel === 'lOFC' && datum.measure === 'Infusions'"}],
                  "mark": {"type": "line", "color": "#161616", "strokeWidth": 4},
                  "encoding": {
                    "x": {"field": "measure", "type": "nominal", "sort": null, "scale": {"domain": ["Active", "Inactive", "Infusions"], "paddingInner": 0.22, "paddingOuter": 0.0572, "align": 0.723}, "axis": {"title": null, "labelOffset": {"condition": {"test": "datum.value === 'Inactive'", "value": 48}, "value": 0}}},
                    "xOffset": {"field": "group", "type": "nominal", "scale": {"type": "band", "domain": ["aCSF", "B+M"], "paddingInner": 0.6, "paddingOuter": 0.407}},
                    "y": {"field": "value", "type": "quantitative", "scale": {"domain": [0, 15], "nice": false}, "axis": {"orient": "right", "title": "Infusions", "values": [0, 5, 10, 15]}},
                    "detail": {"field": "rat", "type": "nominal"}
                  }
                },
                {
                  "data": {"name": "points"},
                  "transform": [{"filter": "datum.panel === 'lOFC' && datum.measure === 'Infusions'"}],
                  "mark": {"type": "point", "filled": true, "opacity": 1, "color": "#161616", "size": 784},
                  "encoding": {
                    "x": {"field": "measure", "type": "nominal", "sort": null, "scale": {"domain": ["Active", "Inactive", "Infusions"], "paddingInner": 0.22, "paddingOuter": 0.0572, "align": 0.723}, "axis": {"title": null, "labelOffset": {"condition": {"test": "datum.value === 'Inactive'", "value": 48}, "value": 0}}},
                    "xOffset": {"field": "group", "type": "nominal", "scale": {"type": "band", "domain": ["aCSF", "B+M"], "paddingInner": 0.6, "paddingOuter": 0.407}},
                    "y": {"field": "value", "type": "quantitative", "scale": {"domain": [0, 15], "nice": false}, "axis": {"orient": "right", "title": "Infusions", "values": [0, 5, 10, 15]}},
                    "shape": {"field": "group", "type": "nominal", "scale": {"domain": ["aCSF", "B+M"], "range": ["square", "circle"]}, "legend": null}
                  }
                }
              ]
            }
          ]
        }
      ]
    }
  ]
}
